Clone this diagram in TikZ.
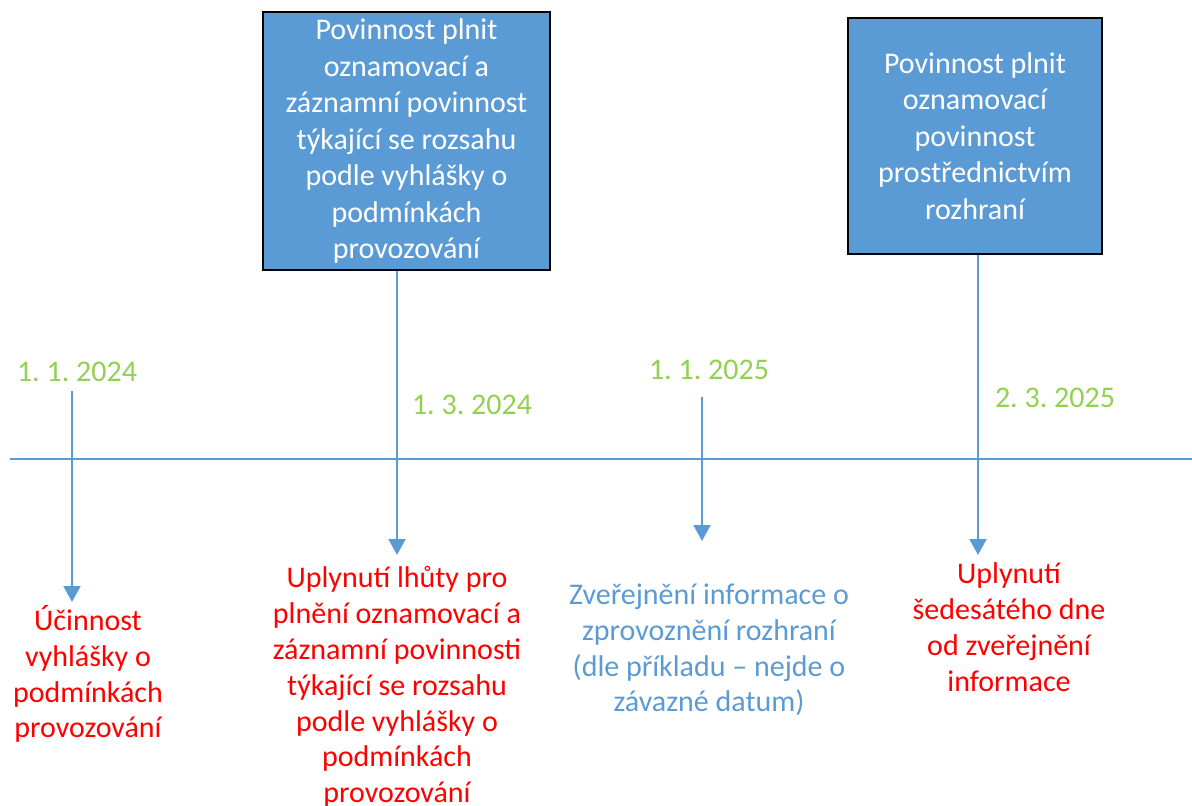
\documentclass[tikz,border=0pt]{standalone}
\usepackage{fontspec}
\setmainfont{Carlito}
\frenchspacing
\usepackage{tikz}
\usetikzlibrary{arrows.meta}
\definecolor{lineblue}{HTML}{5B9BD5}
\definecolor{dategreen}{HTML}{92D050}
\tikzstyle{duty}=[rectangle, draw=black, line width=1.6pt, fill=lineblue, text=white,
  align=center, font=\fontsize{30}{36.5}\selectfont, inner sep=0pt]
\tikzstyle{date}=[text=dategreen, font=\fontsize{30}{36}\selectfont]
\tikzstyle{event}=[text=red, align=center, font=\fontsize{30}{35.8}\selectfont]
\tikzstyle{info}=[event, text=lineblue]
\tikzstyle{axis}=[draw=lineblue, line width=1.6pt]
\tikzstyle{arrtime}=[-{Triangle[width=17pt,length=16pt]}, draw=lineblue,
  fill=lineblue, line width=2pt]

\begin{document}
\begin{tikzpicture}[x=1pt, y=-1pt]
\useasboundingbox (0,0) rectangle (1192,806);

% the time axis
\coordinate (axisstart) at (10,459);
\coordinate (axisend) at (1192,459);
\draw[axis] (axisstart) -- (axisend);

% duties above the axis
\node[duty, minimum width=287pt, minimum height=258pt] at (406.5,141) (dutyreport)
  {Povinnost plnit\\oznamovací a\\záznamní povinnost\\týkající se rozsahu\\podle vyhlášky o\\podmínkách\\provozování};
\node[duty, minimum width=254pt, minimum height=236pt] at (975,136) (dutyiface)
  {Povinnost plnit\\oznamovací\\povinnost\\prostřednictvím\\rozhraní};

% dates
\node[date] at (77,372) (d20240101) {1. 1. 2024};
\node[date] at (472,405) (d20240301) {1. 3. 2024};
\node[date] at (709,370) (d20250101) {1. 1. 2025};
\node[date] at (1055,398) (d20250302) {2. 3. 2025};

% events below the axis
\node[event] at (88,674) (effect)
  {Účinnost\\vyhlášky o\\podmínkách\\provozování};
\node[event] at (397,687) (deadline)
  {Uplynutí lhůty pro\\plnění oznamovací a\\záznamní povinnosti\\týkající se rozsahu\\podle vyhlášky o\\podmínkách\\provozování};
\node[info] at (709,650) (publish)
  {Zveřejnění informace o\\zprovoznění rozhraní\\(dle příkladu – nejde o\\závazné datum)};
\node[event] at (1009,627) (sixty)
  {Uplynutí\\šedesátého dne\\od zveřejnění\\informace};

% arrows across the axis
\coordinate (tick1top) at (72,391);
\coordinate (tick1end) at (72,602);
\coordinate (tick2end) at (397,555);
\coordinate (tick3top) at (702,397);
\coordinate (tick3end) at (702,541);
\coordinate (tick4end) at (978,555);

\draw[arrtime] (tick1top) -- (tick1end);
\draw[arrtime] (dutyreport.south -| tick2end) -- (tick2end);
\draw[arrtime] (tick3top) -- (tick3end);
\draw[arrtime] (dutyiface.south -| tick4end) -- (tick4end);

\end{tikzpicture}
\end{document}
